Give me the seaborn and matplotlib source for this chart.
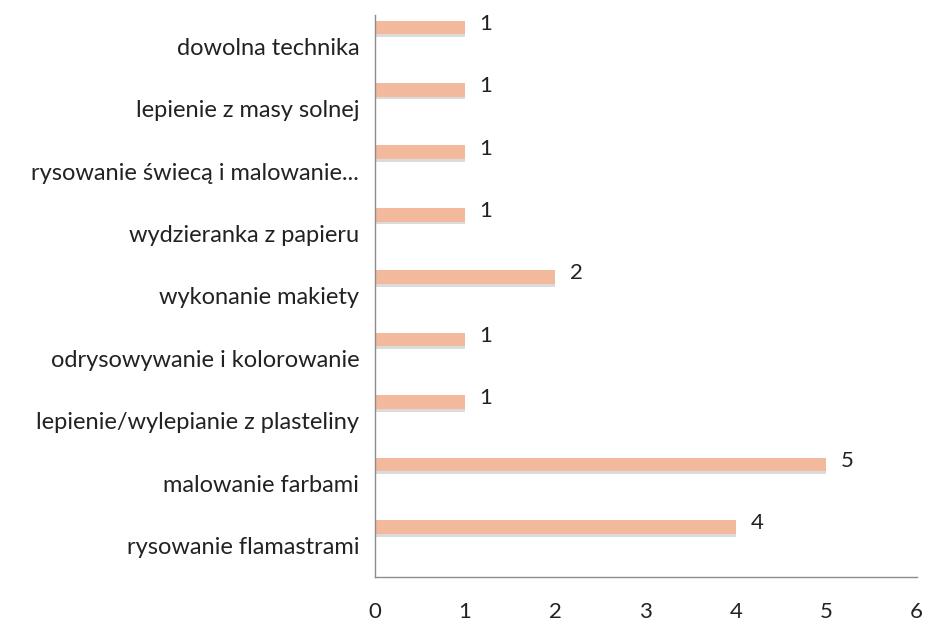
import matplotlib
matplotlib.use('Agg')
import matplotlib.pyplot as plt
import matplotlib.patheffects as pe
import seaborn as sns
import pandas as pd

# dane z wykresu (od góry do dołu)
techniki = [
    "dowolna technika",
    "lepienie z masy solnej",
    "rysowanie świecą i malowanie...",
    "wydzieranka z papieru",
    "wykonanie makiety",
    "odrysowywanie i kolorowanie",
    "lepienie/wylepianie z plasteliny",
    "malowanie farbami",
    "rysowanie flamastrami",
]
liczba = [1, 1, 1, 1, 2, 1, 1, 5, 4]
x_ticks = [0, 1, 2, 3, 4, 5, 6]

df = pd.DataFrame({"technika": techniki, "liczba": liczba})

sns.set_style("white")
plt.rcParams['font.family'] = ['Lato', 'DejaVu Sans']

fig = plt.figure(figsize=(9.25, 6.21), dpi=100)
ax = fig.add_axes([0.405, 0.071, 0.586, 0.905])

sns.barplot(data=df, x="liczba", y="technika", orient="h", width=0.22,
            color="#F2B99C", saturation=1, linewidth=0, ax=ax)

# słupki przesunięte w górę względem etykiet (jak w Excelu)
for p in ax.patches:
    p.set_y(p.get_y() - 0.3)
    p.set_path_effects([pe.SimplePatchShadow(offset=(0, -2), shadow_rgbFace="#999999", alpha=0.35),
                        pe.Normal()])

for i, v in enumerate(liczba):
    ax.text(v + 0.23, i - 0.36, str(v), va="center", ha="center", fontsize=16, color="#222222")

ax.set_xlim(0, 6)
ax.set_ylim(8.5, -0.5)
ax.set_xticks(x_ticks)
ax.set_xticklabels([str(t) for t in x_ticks], fontsize=16, color="#222222")
ax.set_yticks(range(len(techniki)))
ax.set_yticklabels(techniki, fontsize=17, color="#222222")
ax.tick_params(axis="x", length=0, pad=18)
ax.tick_params(axis="y", length=0, pad=11)
ax.set_xlabel("")
ax.set_ylabel("")

for s in ["top", "right"]:
    ax.spines[s].set_visible(False)
for s in ["left", "bottom"]:
    ax.spines[s].set_color("#8c8c8c")
    ax.spines[s].set_linewidth(1)

plt.savefig("out.png", dpi=100)
plt.close()
